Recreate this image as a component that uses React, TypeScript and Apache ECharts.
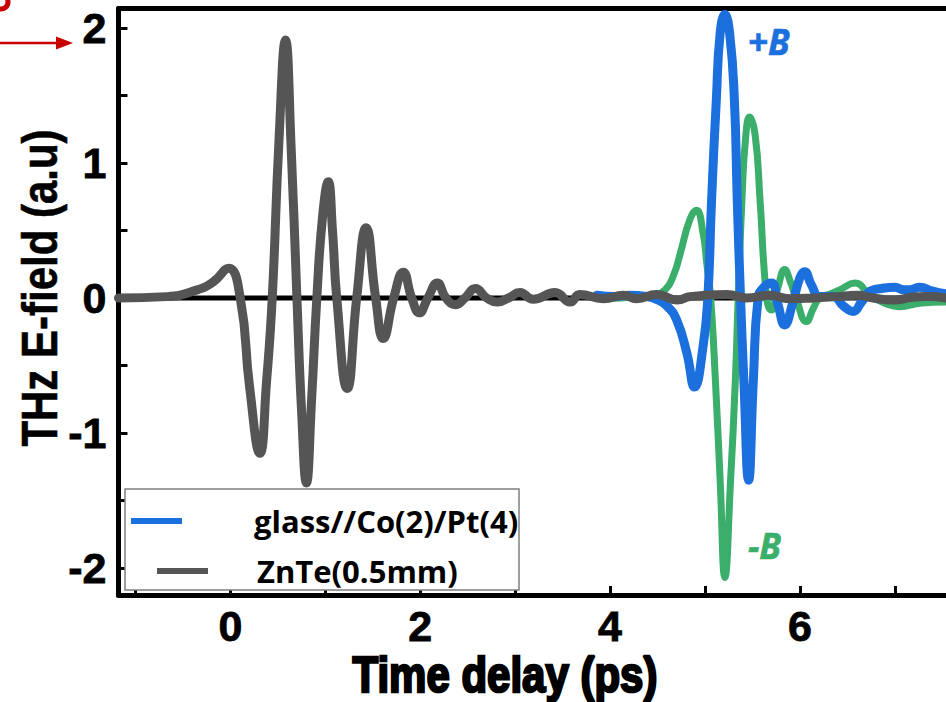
import React, { useEffect, useRef } from "react";
import * as echarts from "echarts";

// Axis ticks and labels
const xTickValues = [-1, 0, 1, 2, 3, 4, 5, 6, 7];
const xLabelValues = [0, 2, 4, 6];
const yTickValues = [-2, -1.5, -1, -0.5, 0, 0.5, 1, 1.5, 2];
const yLabelValues = [-2, -1, 0, 1, 2];

// ZnTe(0.5mm) reference waveform
const znteTime = [
  -1.18, -0.67, -0.35, -0.18, -0.02, 0.105, 0.2, 0.31, 0.38, 0.44, 0.51, 0.58, 0.64, 0.7,
  0.75, 0.8, 0.855, 0.91, 0.97, 1.03, 1.075, 1.12, 1.23, 1.33, 1.43, 1.53, 1.61, 1.72,
  1.82, 1.91, 1.99, 2.08, 2.18, 2.27, 2.37, 2.47, 2.58, 2.7, 2.81, 2.93, 3.05, 3.19,
  3.42, 3.58, 3.68, 3.93, 4.14, 4.28, 4.49, 4.71, 4.84, 5.23, 5.44, 5.68, 5.89, 6.14,
  6.39, 6.6, 6.77, 6.98, 7.19, 7.34, 7.54,
];
const znteField = [
  0.0, 0.01, 0.06, 0.12, 0.22, -0.01, -0.65, -1.15, -0.62, 0.0, 1.15, 1.91, 1.1, 0.0,
  -0.85, -1.37, -0.75, 0.0, 0.6, 0.86, 0.5, 0.0, -0.67, 0.0, 0.52, 0.0, -0.3, 0.0,
  0.19, 0.0, -0.11, 0.0, 0.11, 0.0, -0.05, 0.0, 0.07, 0.0, -0.03, 0.0, 0.04, -0.01,
  0.04, -0.03, 0.025, -0.005, 0.02, -0.005, 0.025, -0.015, 0.01, 0.025, 0.0, 0.02, -0.005, 0.0,
  0.01, 0.02, 0.0, -0.015, 0.005, 0.01, 0.0,
];

// glass//Co(2)/Pt(4) emission, +B
const plusBTime = [
  3.86, 4.05, 4.2, 4.39, 4.49, 4.6, 4.7, 4.81, 4.89, 4.98, 5.03, 5.07, 5.12, 5.16, 5.21,
  5.26, 5.31, 5.34, 5.375, 5.41, 5.46, 5.51, 5.56, 5.62, 5.7, 5.77, 5.84, 5.92, 6.0,
  6.05, 6.12, 6.21, 6.35, 6.46, 6.56, 6.65, 6.74, 6.86, 7.0, 7.1, 7.16, 7.26, 7.4, 7.54,
];
const plusBField = [
  0.02, 0.01, 0.02, 0.01, -0.01, -0.06, -0.16, -0.41, -0.66, -0.36, 0.0, 0.73, 1.47, 1.96, 2.1,
  1.96, 1.47, 0.73, 0.0, -0.61, -1.35, -0.61, 0.0, 0.08, 0.11, -0.05, -0.2, -0.05, 0.15,
  0.195, 0.1, 0.01, 0.01, -0.06, -0.1, -0.03, 0.05, 0.07, 0.08, 0.06, 0.06, 0.08, 0.05, 0.03,
];

// glass//Co(2)/Pt(4) emission, -B
const minusBTime = [
  3.9, 4.1, 4.3, 4.45, 4.58, 4.67, 4.74, 4.84, 4.91, 4.98, 5.02, 5.06, 5.11, 5.16, 5.21,
  5.27, 5.32, 5.35, 5.39, 5.43, 5.47, 5.53, 5.58, 5.65, 5.7, 5.77, 5.84, 5.9, 5.96,
  6.07, 6.14, 6.21, 6.32, 6.42, 6.58, 6.74, 6.9, 7.05, 7.26, 7.54,
];
const minusBField = [
  -0.01, 0.0, 0.01, 0.02, 0.06, 0.17, 0.33, 0.58, 0.65, 0.48, 0.25, 0.0, -0.61, -1.35, -2.07,
  -1.35, -0.61, 0.0, 0.73, 1.2, 1.34, 1.2, 0.73, 0.0, -0.09, 0.08, 0.21, 0.12, 0.0,
  -0.175, -0.08, 0.0, 0.03, 0.06, 0.11, 0.02, -0.04, -0.065, -0.04, -0.03,
];

const PLUS_NAME = "glass//Co(2)/Pt(4)";
const ZNTE_NAME = "ZnTe(0.5mm)";
const MINUS_NAME = "glass//Co(2)/Pt(4) -B";

const BLUE = "#1b70de";
const GREEN = "#3aae6a";
const GRAY = "#555555";
const RED = "#c80000";

const X_MIN = -1.18;
const X_MAX = 7.54;
const Y_MIN = -2.2;
const Y_MAX = 2.144;

// Liberation Sans squeezed horizontally stands in for a narrow bold face
const HEAVY = "'Liberation Sans', Arial, sans-serif";
const NARROW_SCALE = 0.84;
const SANS = "'Open Sans', 'Noto Sans', sans-serif";

const zip = (xs: number[], ys: number[]) => xs.map((x, i) => [x, ys[i]]);

export default function App() {
  const ref = useRef<HTMLDivElement | null>(null);

  useEffect(() => {
    if (!ref.current) return;
    const chart = echarts.init(ref.current, undefined, { renderer: "svg" });

    const curve = (name: string, color: string, width: number, xs: number[], ys: number[], z: number) => ({
      name,
      type: "line",
      data: zip(xs, ys),
      color,
      showSymbol: false,
      smooth: 0.5,
      z,
      lineStyle: { color, width, cap: "round", join: "round" },
      emphasis: { disabled: true },
    });

    const axisText = {
      fontSize: 43,
      fontWeight: "bold",
      fontFamily: HEAVY,
      color: "#000",
      textBorderColor: "#000",
      textBorderWidth: 0.8,
    };

    const legendText = {
      fontSize: 31,
      fontWeight: "bold",
      fontFamily: SANS,
      color: "#000",
      lineHeight: 36,
    };

    chart.setOption({
      animation: false,
      backgroundColor: "#ffffff",
      grid: { left: 118.5, right: 0, top: 8.5, bottom: 107, containLabel: false },
      xAxis: [
        {
          type: "value",
          min: X_MIN,
          max: X_MAX,
          axisLine: { show: true, onZero: false, lineStyle: { color: "#000", width: 5 } },
          axisTick: {
            show: true,
            inside: true,
            length: 9,
            customValues: xTickValues,
            lineStyle: { color: "#000", width: 3 },
          },
          axisLabel: { customValues: xLabelValues, margin: 9, ...axisText },
          splitLine: { show: false },
        },
        {
          type: "value",
          position: "top",
          min: X_MIN,
          max: X_MAX,
          axisLine: { show: true, onZero: false, lineStyle: { color: "#000", width: 5 } },
          axisTick: { show: false },
          axisLabel: { show: false },
          splitLine: { show: false },
        },
      ],
      yAxis: {
        type: "value",
        min: Y_MIN,
        max: Y_MAX,
        axisLine: { show: true, onZero: false, lineStyle: { color: "#000", width: 5 } },
        axisTick: {
          show: true,
          inside: true,
          length: 9,
          customValues: yTickValues,
          lineStyle: { color: "#000", width: 3 },
        },
        axisLabel: { customValues: yLabelValues, margin: 12, ...axisText },
        splitLine: { show: false },
      },
      legend: [
        {
          data: [PLUS_NAME],
          z: 8,
          left: 131,
          top: 503,
          padding: 0,
          icon: "rect",
          itemWidth: 51,
          itemHeight: 6,
          selectedMode: false,
          textStyle: { ...legendText, padding: [0, 0, 0, 67] },
        },
        {
          data: [ZNTE_NAME],
          z: 8,
          left: 157,
          top: 553,
          padding: 0,
          icon: "rect",
          itemWidth: 51,
          itemHeight: 6,
          selectedMode: false,
          textStyle: { ...legendText, padding: [0, 0, 0, 44] },
        },
      ],
      series: [
        {
          name: "zero",
          type: "line",
          data: [
            [X_MIN, 0],
            [X_MAX, 0],
          ],
          showSymbol: false,
          z: 1,
          lineStyle: { color: "#000", width: 5 },
          emphasis: { disabled: true },
        },
        curve(MINUS_NAME, GREEN, 7, minusBTime, minusBField, 2),
        curve(PLUS_NAME, BLUE, 9, plusBTime, plusBField, 2.5),
        curve(ZNTE_NAME, GRAY, 9, znteTime, znteField, 3),
      ],
      graphic: [
        {
          type: "rect",
          z: 5,
          shape: { x: 125, y: 489, width: 394, height: 101 },
          style: { fill: "#ffffff", stroke: "#7f7f7f", lineWidth: 1.5 },
        },
        {
          type: "text",
          z: 20,
          x: 748,
          y: 41,
          style: {
            text: "+B",
            fill: BLUE,
            stroke: BLUE,
            lineWidth: 0.6,
            font: `italic bold 35px ${SANS}`,
            align: "left",
            verticalAlign: "middle",
          },
        },
        {
          type: "text",
          z: 20,
          x: 748,
          y: 545,
          style: {
            text: "-B",
            fill: GREEN,
            stroke: GREEN,
            lineWidth: 0.6,
            font: `italic bold 35px ${SANS}`,
            align: "left",
            verticalAlign: "middle",
          },
        },
        {
          type: "text",
          z: 20,
          x: 40,
          y: 288,
          rotation: Math.PI / 2,
          scaleX: NARROW_SCALE,
          style: {
            text: "THz E-field (a.u)",
            fill: "#000",
            stroke: "#000",
            lineWidth: 0.6,
            font: `bold 50px ${HEAVY}`,
            align: "center",
            verticalAlign: "middle",
          },
        },
        {
          type: "text",
          z: 20,
          x: 505,
          y: 675,
          scaleX: NARROW_SCALE,
          style: {
            text: "Time delay (ps)",
            fill: "#000",
            stroke: "#000",
            lineWidth: 2.5,
            font: `bold 50px ${HEAVY}`,
            align: "center",
            verticalAlign: "middle",
          },
        },
        {
          type: "line",
          z: 20,
          shape: { x1: 0, y1: 43, x2: 60, y2: 43 },
          style: { stroke: RED, lineWidth: 2.5 },
        },
        {
          type: "polygon",
          z: 20,
          shape: { points: [[56, 36.5], [73, 43], [56, 49.5]] },
          style: { fill: RED },
        },
        {
          type: "arc",
          z: 20,
          shape: { cx: 1, cy: 2, r: 7, startAngle: -Math.PI / 3, endAngle: Math.PI * 0.9, clockwise: true },
          style: { stroke: RED, lineWidth: 5, fill: "none" },
        },
      ],
    });

    return () => chart.dispose();
  }, []);

  return (
    <div style={{ position: "absolute", left: 0, top: 0 }}>
      <div ref={ref} style={{ width: 946, height: 702 }} />
    </div>
  );
}
